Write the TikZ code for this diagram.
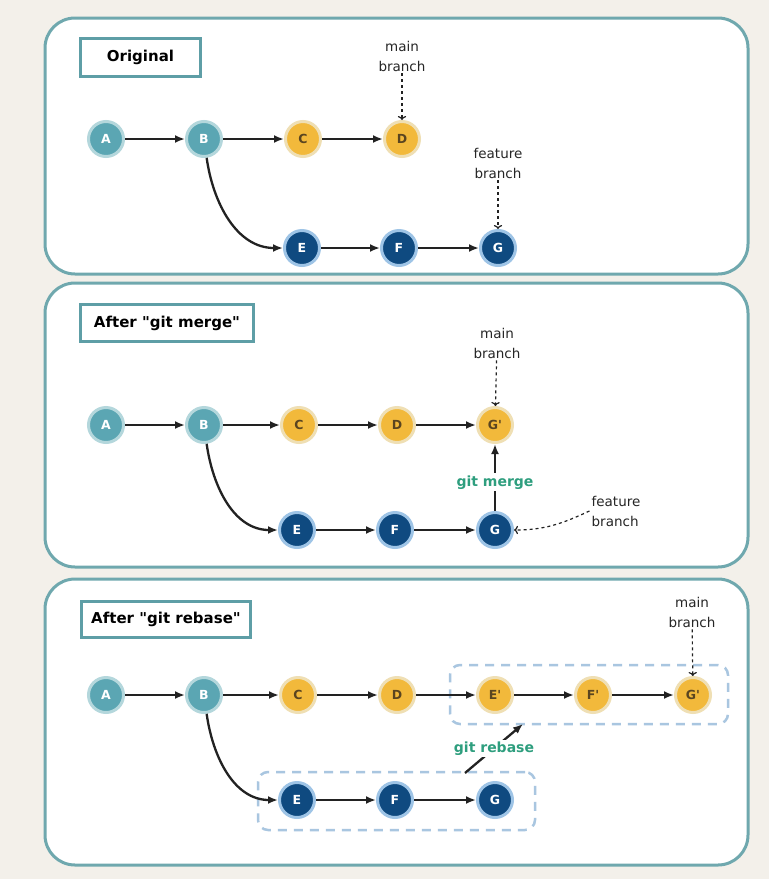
\documentclass[tikz,border=0pt]{standalone}
\usepackage{fontspec}
\setmainfont{DejaVu Sans}[Ligatures=TeXOff]
\usetikzlibrary{arrows.meta,positioning}

\definecolor{bgc}{HTML}{F3F0EA}
\definecolor{panelc}{HTML}{6FA8AE}
\definecolor{titlec}{HTML}{5E9EA6}
\definecolor{tealc}{HTML}{5BA6B3}
\definecolor{tealring}{HTML}{B4D7DC}
\definecolor{goldc}{HTML}{F2B93B}
\definecolor{goldring}{HTML}{EFDFB4}
\definecolor{goldtext}{HTML}{5A4520}
\definecolor{navyc}{HTML}{0F4A80}
\definecolor{navyring}{HTML}{9EC4E6}
\definecolor{arrc}{HTML}{222222}
\definecolor{gitc}{HTML}{2E9E7E}
\definecolor{grpc}{HTML}{A9C6E0}

\tikzset{
  panel/.style={draw=panelc, line width=3pt, fill=white, rounded corners=30pt},
  titlebox/.style={draw=titlec, line width=3pt, fill=white, inner sep=0pt,
    font=\fontsize{15}{18}\selectfont\bfseries},
  commit/.style={circle, minimum size=35pt, inner sep=0pt, line width=3pt,
    font=\fontsize{12.5}{15}\selectfont\bfseries},
  basec/.style={commit, fill=tealc, draw=tealring, text=white},
  mainc/.style={commit, fill=goldc, draw=goldring, text=goldtext},
  featc/.style={commit, fill=navyc, draw=navyring, text=white},
  arr/.style={-{Latex[length=10pt,width=8pt]}, line width=2.3pt, draw=arrc},
  ptr/.style={-{To[length=4pt]}, line width=1.2pt, dash pattern=on 3pt off 3pt, draw=arrc},
  lbl/.style={align=center, inner sep=2pt, text=black!85,
    font=\fontsize{13.5}{20}\selectfont},
  gitlbl/.style={fill=white, inner sep=2pt, text=gitc,
    font=\fontsize{14}{16}\selectfont\bfseries},
  groupbox/.style={draw=grpc, line width=2.5pt, dash pattern=on 9pt off 7pt,
    rounded corners=10pt}
}

\begin{document}
\begin{tikzpicture}[x=1pt, y=-1pt]
    \useasboundingbox (0,0) rectangle (769,879);
    \fill[bgc] (0,0) rectangle (769,879);

    % three panels
    \draw[panel] (45,18) rectangle (748,274);
    \draw[panel] (45,283) rectangle (748,567);
    \draw[panel] (45,579) rectangle (748,865);

    % Original
    \node[titlebox, minimum width=120pt, minimum height=38pt] (title1) at (140.5,57.5) {Original};
    \foreach \n/\x/\s/\t in {a1/106/basec/A, b1/204/basec/B, c1/303/mainc/C, d1/402/mainc/D} {
        \node[\s] (\n) at (\x,139) {\t};
    }
    \foreach \n/\x/\t in {e1/302/E, f1/399/F, g1/498/G} {
        \node[featc] (\n) at (\x,248) {\t};
    }
    \foreach \u/\v in {a1/b1, b1/c1, c1/d1, e1/f1, f1/g1} {
        \draw[arr] (\u) -- (\v);
    }
    \draw[arr] (b1) to[out=-82, in=180] (e1);
    \node[lbl] (main1) at (402,56) {main\\branch};
    \draw[ptr] (main1) -- (d1);
    \node[lbl] (feat1) at (498,163) {feature\\branch};
    \draw[ptr] (feat1) -- (g1);

    % After "git merge"
    \node[titlebox, minimum width=173pt, minimum height=37pt] (title2) at (167,323) {After "git merge"};
    \foreach \n/\x/\s/\t in {a2/106/basec/A, b2/204/basec/B, c2/299/mainc/C, d2/397/mainc/D, g2p/495/mainc/G'} {
        \node[\s] (\n) at (\x,425) {\t};
    }
    \foreach \n/\x/\t in {e2/297/E, f2/395/F, g2/495/G} {
        \node[featc] (\n) at (\x,530) {\t};
    }
    \foreach \u/\v in {a2/b2, b2/c2, c2/d2, d2/g2p, e2/f2, f2/g2} {
        \draw[arr] (\u) -- (\v);
    }
    \draw[arr] (b2) to[out=-82, in=180] (e2);
    \draw[arr] (g2) -- node[gitlbl, pos=0.43] {git merge} (g2p);
    \node[lbl] (main2) at (497,343) {main\\branch};
    \draw[ptr] (main2) -- (g2p);
    \node[lbl, align=left] (feat2) at (616,511) {feature\\branch};
    \draw[ptr] (feat2.west) to[out=205, in=0] (g2);

    % After "git rebase"
    \node[titlebox, minimum width=169pt, minimum height=36pt] (title3) at (166,619.5) {After "git rebase"};
    \node[groupbox, minimum width=278pt, minimum height=59pt] (newgrp) at (589,694.5) {};
    \node[groupbox, minimum width=277pt, minimum height=58pt] (oldgrp) at (396.5,801) {};
    \foreach \n/\x/\s/\t in {a3/106/basec/A, b3/204/basec/B, c3/298/mainc/C, d3/397/mainc/D,
                             e3p/495/mainc/E', f3p/593/mainc/F', g3p/693/mainc/G'} {
        \node[\s] (\n) at (\x,695) {\t};
    }
    \foreach \n/\x/\t in {e3/297/E, f3/395/F, g3/495/G} {
        \node[featc] (\n) at (\x,800) {\t};
    }
    \foreach \u/\v in {a3/b3, b3/c3, c3/d3, d3/e3p, e3p/f3p, f3p/g3p, e3/f3, f3/g3} {
        \draw[arr] (\u) -- (\v);
    }
    \draw[arr] (b3) to[out=-82, in=180] (e3);
    \coordinate (rbfrom) at (465,773);
    \coordinate (rbto) at (523,724);
    \draw[arr] (rbfrom) -- node[gitlbl] {git rebase} (rbto);
    \node[lbl] (main3) at (692,612) {main\\branch};
    \draw[ptr] (main3) -- (g3p);
\end{tikzpicture}
\end{document}
